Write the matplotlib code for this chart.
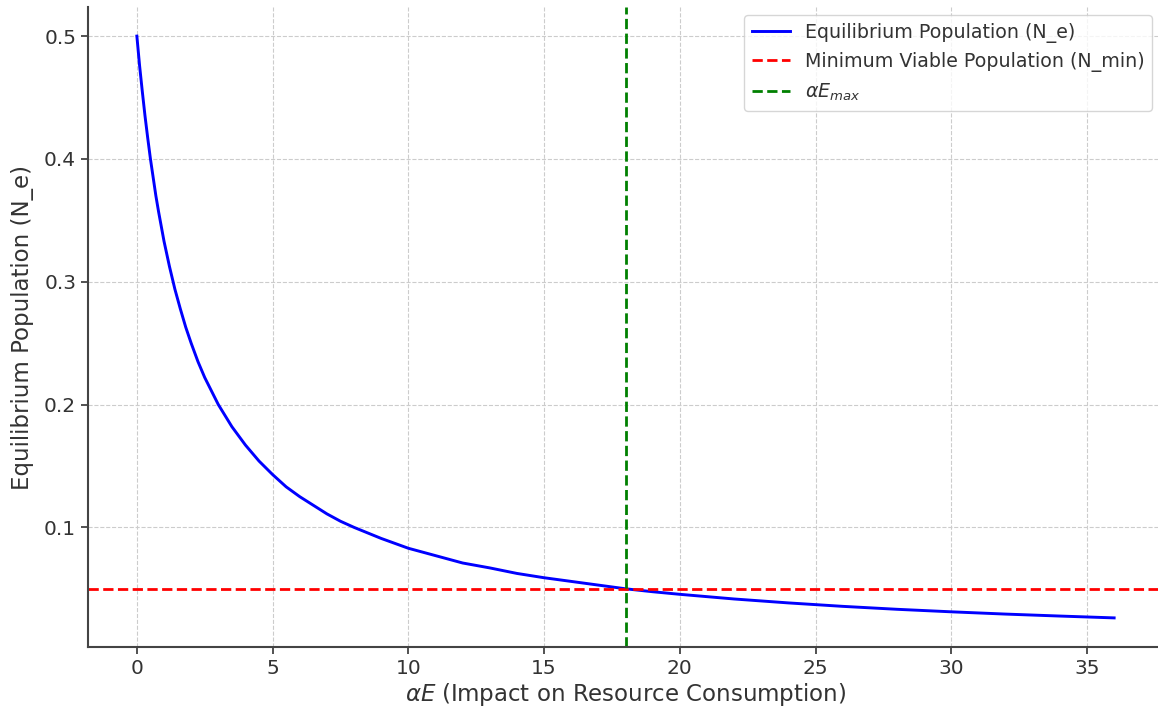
import matplotlib
matplotlib.use("Agg")
import matplotlib.pyplot as plt

# values
alpha_e = [0, 0.1, 0.2, 0.3, 0.4, 0.5, 0.6, 0.7, 0.8, 0.9, 1.0, 1.2, 1.4, 1.6, 1.8,
           2.0, 2.25, 2.5, 2.75, 3, 3.5, 4, 4.5, 5, 5.5, 6, 6.5, 7, 7.5, 8, 9, 10,
           11, 12, 13, 14, 15, 16, 17, 18, 19, 20, 22, 24, 26, 28, 30, 32, 34, 36]
n_eq = [0.5, 0.476, 0.455, 0.435, 0.417, 0.4, 0.385, 0.37, 0.357, 0.345, 0.333,
        0.3125, 0.294, 0.278, 0.263, 0.25, 0.235, 0.222, 0.211, 0.2, 0.182, 0.167,
        0.154, 0.143, 0.133, 0.125, 0.118, 0.111, 0.105, 0.1, 0.091, 0.083, 0.077,
        0.071, 0.067, 0.0625, 0.059, 0.056, 0.053, 0.05, 0.0476, 0.0455, 0.0417,
        0.0385, 0.0357, 0.0333, 0.03125, 0.0294, 0.0278, 0.0263]
n_min = 0.05
alpha_e_max = 18

x_ticks = [0, 5, 10, 15, 20, 25, 30, 35]
y_ticks = [0.1, 0.2, 0.3, 0.4, 0.5]

W, H = 1158, 711
fig = plt.figure(figsize=(W / 100, H / 100), dpi=100)
ax = fig.add_axes([88 / W, 1 - 647 / H, 1075 / W, 640 / H])

ax.plot(alpha_e, n_eq, color="blue", linewidth=2.1, label="Equilibrium Population (N_e)")
ax.axhline(n_min, color="red", linestyle="--", linewidth=2,
           label="Minimum Viable Population (N_min)")
ax.axvline(alpha_e_max, color="green", linestyle="--", linewidth=2,
           label=r"$\alpha E_{max}$")

ax.set_xlim(-1.8, 37.8)
ax.set_ylim(0.0026, 0.5237)
ax.set_xticks(x_ticks)
ax.set_yticks(y_ticks)
ax.set_yticklabels([str(v) for v in y_ticks])
ax.tick_params(labelsize=14.5, colors="#333333", length=5, width=1.2)

ax.set_xlabel(r"$\alpha E$ (Impact on Resource Consumption)", fontsize=16.5,
              color="#333333", labelpad=2)
ax.set_ylabel("Equilibrium Population (N_e)", fontsize=16.5, color="#333333",
              labelpad=7)

ax.grid(True, linestyle="--", color="#cccccc", linewidth=0.8)
for side in ["top", "right"]:
    ax.spines[side].set_visible(False)
for side in ["left", "bottom"]:
    ax.spines[side].set_color("#444444")
    ax.spines[side].set_linewidth(1.5)

leg = ax.legend(loc="upper right", fontsize=13.7, frameon=True, fancybox=True,
                bbox_to_anchor=(0.9898, 0.9875), borderaxespad=0)
leg.get_frame().set_edgecolor("#cccccc")
for t in leg.get_texts():
    t.set_color("#333333")

fig.savefig("out.png", dpi=100)
